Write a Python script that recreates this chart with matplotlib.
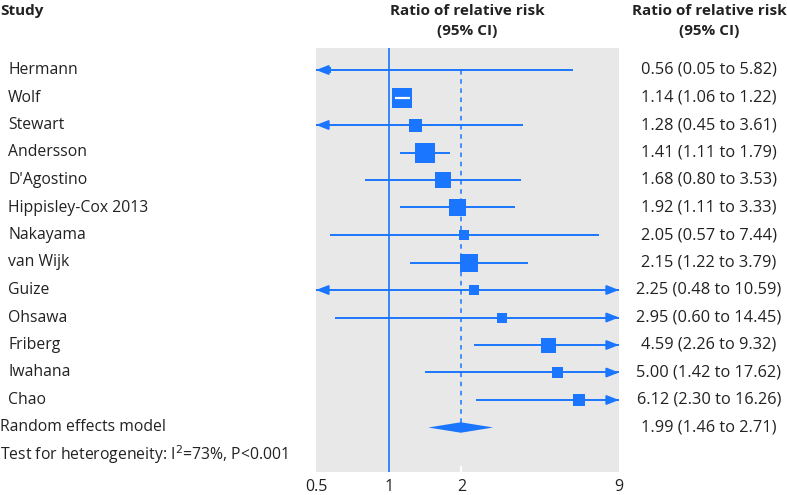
import numpy as np
import matplotlib
matplotlib.use("Agg")
import matplotlib.pyplot as plt
import matplotlib.transforms as mtransforms

plt.rcParams['font.family'] = ['Open Sans', 'DejaVu Sans']

studies = ["Hermann", "Wolf", "Stewart", "Andersson", "D'Agostino", "Hippisley-Cox 2013",
           "Nakayama", "van Wijk", "Guize", "Ohsawa", "Friberg", "Iwahana", "Chao"]
rr = [0.56, 1.14, 1.28, 1.41, 1.68, 1.92, 2.05, 2.15, 2.25, 2.95, 4.59, 5.00, 6.12]
lo = [0.05, 1.06, 0.45, 1.11, 0.80, 1.11, 0.57, 1.22, 0.48, 0.60, 2.26, 1.42, 2.30]
hi = [5.82, 1.22, 3.61, 1.79, 3.53, 3.33, 7.44, 3.79, 10.59, 14.45, 9.32, 17.62, 16.26]
box_px = [6, 20.5, 13, 20.5, 15.5, 17, 10.5, 17.5, 9.5, 9.5, 15, 11, 12.5]
pooled = 1.99
pooled_lo = 1.46
pooled_hi = 2.71
xticks = [0.5, 1, 2, 9]
xticklabels = ["0.5", "1", "2", "9"]

BLUE = "#1a75ff"
GRAY = "#e8e8e8"
TXT = "#222222"

W, H = 787, 495
fig = plt.figure(figsize=(W / 100, H / 100), dpi=100)
px_l, px_r, px_t, px_b = 316, 619, 48, 472
ax = fig.add_axes([px_l / W, 1 - px_b / H, (px_r - px_l) / W, (px_b - px_t) / H])
ax.set_facecolor(GRAY)
for s in ax.spines.values():
    s.set_visible(False)
ax.set_xscale('log')
xmin, xmax = 0.5, 9
ax.set_xlim(xmin, xmax)
row0, step = 70, 27.5
ybot = (px_b - row0) / step
ax.set_ylim(ybot, (px_t - row0) / step)
ax.set_xticks(xticks)
ax.set_xticklabels(xticklabels, fontsize=11.5, color=TXT)
ax.xaxis.set_minor_locator(matplotlib.ticker.NullLocator())
ax.tick_params(axis='x', length=0, pad=5)
ax.set_yticks([])

n = len(studies)
rows = np.arange(n)
pool_row = n

# reference lines
ax.axvline(1, color=BLUE, lw=1.2, zorder=2)
ax.plot([pooled, pooled], [0, pool_row], color=BLUE, lw=1.1, ls=(0, (3, 3)), zorder=2)
# small white mark at 2 on the bottom edge
ax.plot([2, 2], [ybot, ybot - 0.2], color='white', lw=1.5, zorder=2, clip_on=False)

lw = 1.4
astyle = '-|>,head_length=0.9,head_width=0.35'
for i in range(n):
    y = rows[i]
    a = max(lo[i], xmin)
    b = min(hi[i], xmax)
    ax.plot([a, b], [y, y], color=BLUE, lw=lw, zorder=3, solid_capstyle='butt')
    if lo[i] < xmin:
        ax.annotate("", xy=(xmin, y), xytext=(xmin * 1.06, y),
                    arrowprops=dict(arrowstyle=astyle, color=BLUE, lw=lw, mutation_scale=8,
                                    shrinkA=0, shrinkB=0), zorder=4)
    if hi[i] > xmax:
        ax.annotate("", xy=(xmax, y), xytext=(xmax / 1.06, y),
                    arrowprops=dict(arrowstyle=astyle, color=BLUE, lw=lw, mutation_scale=8,
                                    shrinkA=0, shrinkB=0), zorder=4)
    ax.plot([rr[i]], [y], marker='s', ms=box_px[i] * 0.72, color=BLUE, mec=BLUE, mew=0, zorder=5)
    # CI inside the box drawn white
    half = box_px[i] / 2
    ci_l_px = 72.5 * np.log2(lo[i] / rr[i])
    ci_r_px = 72.5 * np.log2(hi[i] / rr[i])
    if -ci_l_px < half and ci_r_px < half:
        ax.plot([lo[i], hi[i]], [y, y], color='white', lw=1.6, zorder=6, solid_capstyle='butt')

# diamond
dh = 0.19
ax.fill([pooled_lo, pooled, pooled_hi, pooled], [pool_row, pool_row - dh, pool_row, pool_row + dh],
        color=BLUE, lw=0, zorder=5)

# left labels
trans = mtransforms.blended_transform_factory(fig.transFigure, ax.transData)
fs = 11.3
for i in range(n):
    ax.text(8 / W, rows[i], studies[i], transform=trans, ha='left', va='center',
            fontsize=fs, color=TXT, clip_on=False)
ax.text(0 / W, pool_row, "Random effects model", transform=trans, ha='left', va='center',
        fontsize=fs, color=TXT, clip_on=False)
ax.text(0 / W, pool_row + 1, "Test for heterogeneity: I$^2$=73%, P<0.001", transform=trans,
        ha='left', va='center', fontsize=fs, color=TXT, clip_on=False)

# right labels
def fmt(r, l, h):
    return f"{r:.2f} ({l:.2f} to {h:.2f})"

for i in range(n):
    ax.text(709 / W, rows[i], fmt(rr[i], lo[i], hi[i]), transform=trans, ha='center', va='center',
            fontsize=11.8, color=TXT, clip_on=False)
ax.text(709 / W, pool_row, fmt(pooled, pooled_lo, pooled_hi), transform=trans, ha='center',
        va='center', fontsize=11.8, color=TXT, clip_on=False)

# headers
hfs = 11
fig.text(0 / W, 1 - 11 / H, "Study", ha='left', va='center', fontsize=hfs, fontweight='bold', color=TXT)
fig.text(467 / W, 1 - 11 / H, "Ratio of relative risk", ha='center', va='center', fontsize=hfs,
         fontweight='bold', color=TXT)
fig.text(467 / W, 1 - 31 / H, "(95% CI)", ha='center', va='center', fontsize=hfs,
         fontweight='bold', color=TXT)
fig.text(709 / W, 1 - 11 / H, "Ratio of relative risk", ha='center', va='center', fontsize=hfs,
         fontweight='bold', color=TXT)
fig.text(709 / W, 1 - 31 / H, "(95% CI)", ha='center', va='center', fontsize=hfs,
         fontweight='bold', color=TXT)

fig.savefig("out.png", dpi=100, facecolor='white')
